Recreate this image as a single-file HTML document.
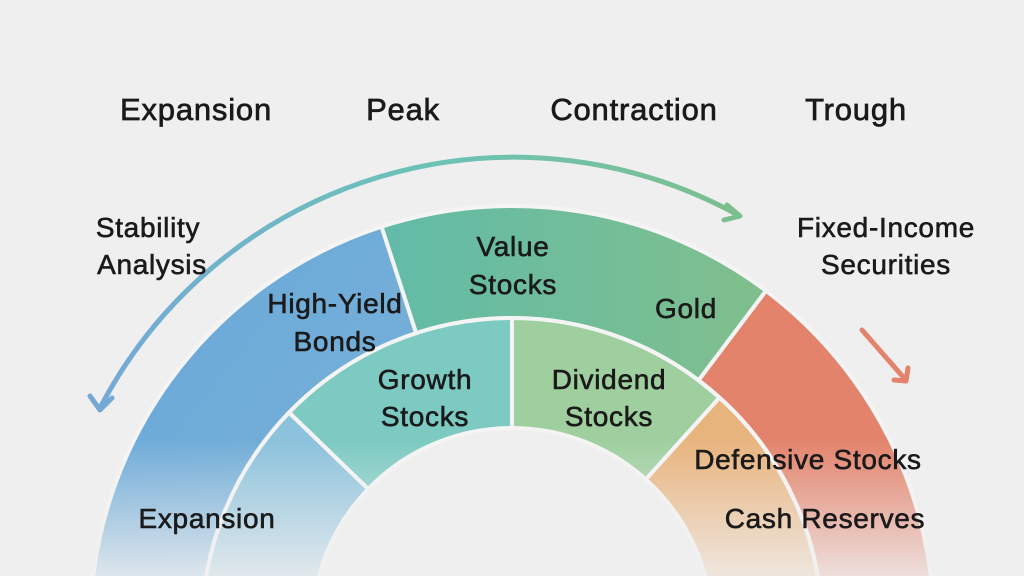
<!DOCTYPE html>
<html><head><meta charset="utf-8"><style>
html,body{margin:0;padding:0;width:1024px;height:576px;overflow:hidden;background:#efefef;font-family:"Liberation Sans",sans-serif}
svg{display:block}
</style></head><body>
<svg width="1024" height="576" viewBox="0 0 1024 576" xmlns="http://www.w3.org/2000/svg">
<defs>
<linearGradient id="fade" x1="0" y1="0" x2="0" y2="1">
<stop offset="0" stop-color="#efefef" stop-opacity="0"/>
<stop offset="1" stop-color="#efefef" stop-opacity="0.85"/>
</linearGradient>
<linearGradient id="arr" x1="0" y1="0" x2="1" y2="0">
<stop offset="0" stop-color="#74a9d6"/>
<stop offset="0.5" stop-color="#6cc2b8"/>
<stop offset="1" stop-color="#7cbf8e"/>
</linearGradient>
<linearGradient id="gr" x1="0" y1="0" x2="1" y2="0">
<stop offset="0" stop-color="#62bba8"/>
<stop offset="1" stop-color="#80bf8c"/>
</linearGradient>
<linearGradient id="bl" x1="0" y1="0" x2="1" y2="1">
<stop offset="0" stop-color="#6aa6da"/>
<stop offset="1" stop-color="#78b4d6"/>
</linearGradient>
</defs>
<rect width="1024" height="576" fill="#efefef"/>
<g stroke="#f4f4f4" stroke-width="4" stroke-linejoin="round">
<path d="M90,628 A422,422 0 0 1 381.6,226.7 L416.2,333.2 A310,310 0 0 0 202,628 Z" fill="url(#bl)"/>
<path d="M381.6,226.7 A422,422 0 0 1 766,290.8 L698.6,380.3 A310,310 0 0 0 416.2,333.2 Z" fill="url(#gr)"/>
<path d="M766,290.8 A422,422 0 0 1 934,628 L822,628 A310,310 0 0 0 698.6,380.3 Z" fill="#e3836c"/>
<path d="M202,628 A310,310 0 0 1 289.1,412.5 L368.2,489 A200,200 0 0 0 312,628 Z" fill="#8cc2dc"/>
<path d="M289.1,412.5 A310,310 0 0 1 512,318 L512,428 A200,200 0 0 0 368.2,489 Z" fill="#7ccac2"/>
<path d="M512,318 A310,310 0 0 1 719.4,397.7 L645.8,479.4 A200,200 0 0 0 512,428 Z" fill="#9fcf9f"/>
<path d="M719.4,397.7 A310,310 0 0 1 822,628 L712,628 A200,200 0 0 0 645.8,479.4 Z" fill="#e8b47e"/>
</g>
<rect x="0" y="440" width="1024" height="136" fill="url(#fade)"/>
<path d="M100,408 A466,466 0 0 1 738,215" fill="none" stroke="url(#arr)" stroke-width="5" stroke-linecap="round"/>
<path d="M90,396 L100,410 L112,398" fill="none" stroke="#74a9d6" stroke-width="5" stroke-linecap="round" stroke-linejoin="round"/>
<path d="M727,205 L740,216 L724,220" fill="none" stroke="#7cbf8e" stroke-width="5" stroke-linecap="round" stroke-linejoin="round"/>
<path d="M862,330 L904,378" fill="none" stroke="#e3836c" stroke-width="5" stroke-linecap="round"/>
<path d="M894,380 L906,381 L908,368" fill="none" stroke="#e3836c" stroke-width="5" stroke-linecap="round" stroke-linejoin="round"/>
<g font-size="31" fill="#1a1a1a" stroke="#1a1a1a" stroke-width="0.7" text-anchor="middle" letter-spacing="0.8">
<text x="196" y="120">Expansion</text>
<text x="403" y="120">Peak</text>
<text x="634" y="120">Contraction</text>
<text x="856" y="120">Trough</text>
</g>
<g font-size="28" fill="#1a1a1a" stroke="#1a1a1a" stroke-width="0.6" text-anchor="middle" letter-spacing="0.7">
<text x="148" y="237">Stability</text>
<text x="152" y="274">Analysis</text>
<text x="886" y="237">Fixed-Income</text>
<text x="886" y="274">Securities</text>
<text x="513" y="256">Value</text>
<text x="513" y="294">Stocks</text>
<text x="686" y="318">Gold</text>
<text x="335" y="313">High-Yield</text>
<text x="335" y="351">Bonds</text>
<text x="425" y="389">Growth</text>
<text x="425" y="426">Stocks</text>
<text x="609" y="389">Dividend</text>
<text x="609" y="426">Stocks</text>
<text x="808" y="469">Defensive Stocks</text>
<text x="825" y="528">Cash Reserves</text>
<text x="207" y="528">Expansion</text>
</g>
</svg>
</body></html>
